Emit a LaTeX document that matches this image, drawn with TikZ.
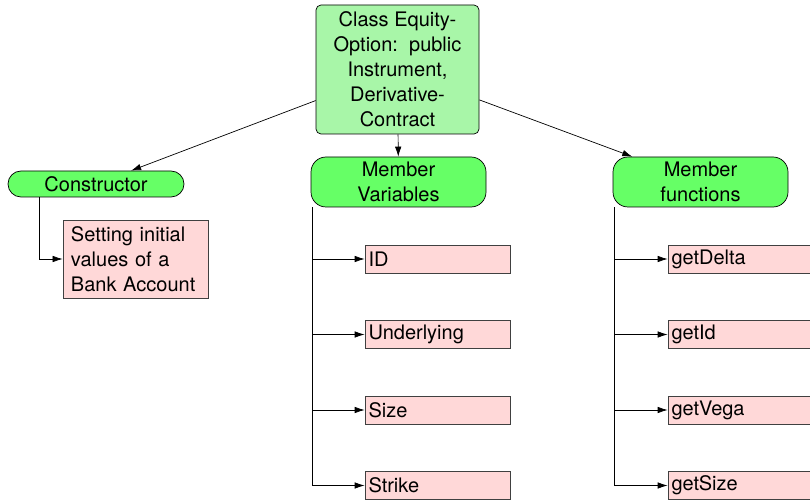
\documentclass[tikz,border=0pt]{standalone}
\usepackage{fontspec}
\setmainfont{TeX Gyre Heros}
\usetikzlibrary{arrows.meta}
\definecolor{classgreen}{RGB}{168,246,168}
\definecolor{groupgreen}{RGB}{102,255,102}
\definecolor{itempink}{RGB}{255,216,216}
\tikzset{
  classbox/.style={draw, rounded corners=5bp, fill=classgreen, align=center,
    minimum width=163bp, minimum height=129bp, inner sep=0pt},
  groupbox/.style={draw, rounded corners=15bp, fill=groupgreen, align=center,
    minimum width=175bp, minimum height=50bp, inner sep=0pt},
  ctorbox/.style={draw, rounded corners=13bp, fill=groupgreen,
    minimum width=176bp, minimum height=26bp, inner sep=0pt},
  itembox/.style={draw=black!75, fill=itempink, align=left, text width=138bp,
    inner xsep=3.5bp, inner ysep=0pt, minimum height=28bp},
}
\begin{document}
\begin{tikzpicture}[x=1bp, y=-1bp, line width=0.7bp,
    >={Latex[length=10bp,width=6.5bp]},
    font=\fontsize{20bp}{25bp}\selectfont]
      \clip (0,0) rectangle (810,500);
      \draw
        (397.5,69.5) node[classbox] (cls){Class Equity-\\Option:~~public\\Instrument,\\Derivative-\\Contract}
        (96,184) node[ctorbox] (ctor){Constructor}
        (398.5,182) node[groupbox] (mvar){Member\\Variables}
        (700.5,182) node[groupbox] (mfun){Member\\functions}
        (135.5,259) node[itembox, text width=129bp, inner xsep=8bp, minimum height=78bp] (init){Setting initial\\values of a\\Bank Account}
        (437.5,259) node[itembox] (id){ID}
        (437.5,334.5) node[itembox] (under){Underlying}
        (437.5,410) node[itembox] (size){Size}
        (437.5,485.5) node[itembox] (strike){Strike}
        (740.5,259) node[itembox] (delta){getDelta}
        (740.5,334.5) node[itembox] (getid){getId}
        (740.5,410) node[itembox] (vega){getVega}
        (740.5,485.5) node[itembox] (getsize){getSize};
      \begin{scope}[->]
        \draw (cls) to (ctor);
        \draw (cls) to (mvar);
        \draw (cls) to (mfun);
        \draw ([xshift=32bp]ctor.south west) |- (init);
        \draw ([xshift=2bp]mvar.south west) |- (id);
        \draw ([xshift=2bp]mvar.south west) |- (under);
        \draw ([xshift=2bp]mvar.south west) |- (size);
        \draw ([xshift=2bp]mvar.south west) |- (strike);
        \draw ([xshift=2bp]mfun.south west) |- (delta);
        \draw ([xshift=2bp]mfun.south west) |- (getid);
        \draw ([xshift=2bp]mfun.south west) |- (vega);
        \draw ([xshift=2bp]mfun.south west) |- (getsize);
      \end{scope}
    \end{tikzpicture}
\end{document}
